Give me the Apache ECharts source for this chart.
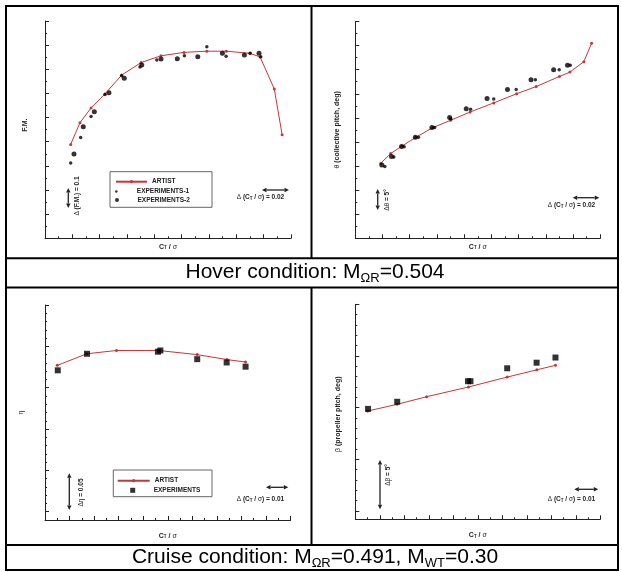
<!DOCTYPE html>
<html><head><meta charset="utf-8">
<script src="https://cdn.jsdelivr.net/npm/echarts@6/dist/echarts.min.js"></script>
<style>html,body{margin:0;padding:0;background:#fff}#c{width:622px;height:572px}</style>
</head><body><div id="c"></div>
<script>
// ---------------- data ----------------
// Hover: F.M. vs CT/sigma
const fmArtistCT = [0.0188,0.0256,0.0337,0.0439,0.0561,0.0703,0.0849,0.1017,0.1184,0.1327,0.1501,0.1574,0.1678,0.1735];
const fmArtist   = [0.389,0.479,0.540,0.598,0.676,0.728,0.756,0.770,0.775,0.775,0.766,0.751,0.618,0.429];
const fmExp1CT   = [0.0188,0.0261,0.0337,0.0439,0.0561,0.0695,0.0818,0.1020,0.1184,0.1325,0.1501,0.1579];
const fmExp1     = [0.312,0.418,0.504,0.596,0.673,0.709,0.738,0.756,0.793,0.754,0.766,0.752];
const fmExp2CT   = [0.0212,0.0280,0.0361,0.0468,0.0580,0.0708,0.0849,0.0968,0.1118,0.1298,0.1459,0.1566];
const fmExp2     = [0.349,0.462,0.524,0.603,0.663,0.718,0.743,0.744,0.752,0.766,0.759,0.766];
// Hover: collective pitch vs CT/sigma
const thArtistCT = [0.0188,0.0260,0.0343,0.0447,0.0571,0.0701,0.0843,0.1017,0.1185,0.1329,0.1500,0.1577,0.1679,0.1736];
const thArtist   = [15.6,17.6,19.15,21.0,23.0,24.5,26.2,28.1,30.0,31.5,33.6,34.5,36.65,40.5];
const thExp1CT   = [0.0217,0.0283,0.0359,0.0464,0.0583,0.0701,0.0847,0.1017,0.1182,0.1323,0.1498,0.1579];
const thExp1     = [14.9,16.9,19.0,21.0,23.0,24.8,26.8,28.9,30.9,32.9,35.0,35.9];
const thExp2CT   = [0.0195,0.0266,0.0340,0.0441,0.0563,0.0693,0.0815,0.0968,0.1118,0.1291,0.1457,0.1559];
const thExp2     = [15.2,17.0,19.05,21.0,23.0,25.05,26.9,29.0,30.9,32.9,35.0,35.9];
// Cruise
const crArtistCT   = [0.0050,0.0170,0.0291,0.0462,0.0620,0.0741,0.0817];
const crArtistEta  = [0.777,0.791,0.795,0.795,0.790,0.784,0.781];
const crArtistBeta = [29.67,30.32,31.06,32.0,32.96,33.66,34.1];
const crExpCT      = [0.0052,0.0171,0.0460,0.0470,0.0620,0.0740,0.0817];
const crExpEta     = [0.771,0.791,0.7935,0.795,0.7845,0.7805,0.7754];
const crExpBeta    = [29.88,30.57,32.56,32.56,33.81,34.35,34.85];
// tick values
const ctHoverTicks  = [0,0.02,0.04,0.06,0.08,0.10,0.12,0.14,0.16,0.18];
const ctHoverMinor  = [0.01,0.03,0.05,0.07,0.09,0.11,0.13,0.15,0.17];
const fmTicks       = [0,0.1,0.2,0.3,0.4,0.5,0.6,0.7,0.8,0.9];
const fmMinor       = [0.05,0.15,0.25,0.35,0.45,0.55,0.65,0.75,0.85];
const thTicks       = [0,5,10,15,20,25,30,35,40,45];
const thMinor       = [2.5,7.5,12.5,17.5,22.5,27.5,32.5,37.5,42.5];
const ctCruiseTicks = [0,0.01,0.02,0.03,0.04,0.05,0.06,0.07,0.08,0.09,0.10];
const ctCruiseMinor = [0.005,0.015,0.025,0.035,0.045,0.055,0.065,0.075,0.085,0.095];
const etaTicks      = [0.60,0.65,0.70,0.75,0.80,0.85];
const etaMinor      = [0.61,0.62,0.63,0.64,0.66,0.67,0.68,0.69,0.71,0.72,0.73,0.74,0.76,0.77,0.78,0.79,0.81,0.82,0.83,0.84];
const betaTicks     = [20,25,30,35,40];
const betaMinor     = [21,22,23,24,26,27,28,29,31,32,33,34,36,37,38,39];

// ---------------- styling ----------------
const FONT = "'Liberation Sans', Arial, sans-serif";
const RED = '#c0393b', INK = '#222';
const zip = (a, b) => a.map((v, i) => [v, b[i]]);

const grids = [
  {left:45,    top:21,    width:246, height:217.3},
  {left:355.3, top:21.5,  width:245, height:216.8},
  {left:45,    top:305,   width:245.5, height:215},
  {left:355.3, top:304.3, width:245, height:215}
].map(g => Object.assign({containLabel:false, outerBoundsMode:'none'}, g));

const ctName = '{b|C}{t|T}{b| / }{n|σ}';
const nameRich = {
  b:{fontSize:7, fontWeight:'bold', fontFamily:FONT, color:INK},
  t:{fontSize:4.5, fontWeight:'bold', fontFamily:FONT, color:INK, verticalAlign:'bottom', lineHeight:6},
  n:{fontSize:7, fontWeight:'normal', fontFamily:FONT, color:INK}
};

function axisPair(dim, gi, min, max, major, minor, name, gap, pad) {
  const base = {type:'value', gridIndex:gi, min, max, position: dim === 'x' ? 'bottom' : 'left',
    axisLabel:{show:false}, splitLine:{show:false}, splitArea:{show:false},
    minorTick:{show:false}, minorSplitLine:{show:false}};
  const main = Object.assign({}, base, {
    axisLine:{show:true, onZero:false, lineStyle:{color:INK, width:1}},
    axisTick:{show:true, inside:true, length:4, customValues:major, lineStyle:{color:INK, width:1}},
    name: name, nameLocation:'middle', nameGap: gap,
    nameTextStyle:{fontSize:7, fontFamily:FONT, color:INK, rich:nameRich, padding: pad || 0}
  });
  const mn = Object.assign({}, base, {
    axisLine:{show:false, onZero:false},
    axisTick:{show:true, inside:true, length:2, customValues:minor, lineStyle:{color:INK, width:1}}
  });
  return [main, mn];
}

const xAxis = [].concat(
  axisPair('x', 0, 0, 0.18, ctHoverTicks, ctHoverMinor, ctName, 5),
  axisPair('x', 1, 0, 0.18, ctHoverTicks, ctHoverMinor, ctName, 5),
  axisPair('x', 2, 0, 0.10, ctCruiseTicks, ctCruiseMinor, ctName, 12.5),
  axisPair('x', 3, 0, 0.10, ctCruiseTicks, ctCruiseMinor, ctName, 12.5)
);
const yAxis = [].concat(
  axisPair('y', 0, 0, 0.9, fmTicks, fmMinor, '{b|F.M.}', 16, [0, 0, 0, 9]),
  axisPair('y', 1, 0, 45, thTicks, thMinor, '{n|θ}{b| (collective pitch, deg)}', 15),
  axisPair('y', 2, 0.59, 0.85, etaTicks, etaMinor, '{n|η}', 20),
  axisPair('y', 3, 19.2, 40, betaTicks, betaMinor, '{n|β}{b| (propeller pitch, deg)}', 14, [0, 5, 0, 0])
);

function artist(gi, ct, v) {
  return {type:'line', name:'ARTIST', xAxisIndex:gi*2, yAxisIndex:gi*2, data:zip(ct, v),
    symbol:'circle', symbolSize:3, showSymbol:true, lineStyle:{color:RED, width:1},
    itemStyle:{color:RED}, z:2, silent:true};
}
function exp(gi, name, ct, v, symbol, size) {
  return {type:'scatter', name, xAxisIndex:gi*2, yAxisIndex:gi*2, data:zip(ct, v),
    symbol, symbolSize:size, itemStyle:{color:'#000'}, z:3, silent:true};
}
const series = [
  artist(0, fmArtistCT, fmArtist),
  exp(0, 'EXPERIMENTS-1', fmExp1CT, fmExp1, 'circle', 3.5),
  exp(0, 'EXPERIMENTS-2', fmExp2CT, fmExp2, 'circle', 5),
  artist(1, thArtistCT, thArtist),
  exp(1, 'EXPERIMENTS-1', thExp1CT, thExp1, 'circle', 3.5),
  exp(1, 'EXPERIMENTS-2', thExp2CT, thExp2, 'circle', 5),
  artist(2, crArtistCT, crArtistEta),
  exp(2, 'EXPERIMENTS', crExpCT, crExpEta, 'rect', 6),
  artist(3, crArtistCT, crArtistBeta),
  exp(3, 'EXPERIMENTS', crExpCT, crExpBeta, 'rect', 6)
];

function leg(item, left, centerY, iw, ih) {
  return {data:[item], left, top:centerY - 4, orient:'horizontal', padding:0,
    itemWidth:iw, itemHeight:ih, selectedMode:false, symbolKeepAspect:true,
    textStyle:{fontSize:6.5, fontWeight:'bold', fontFamily:FONT, color:INK, lineHeight:8}};
}
// square icon centred in a 64x10 box (bounds fixed by zero-length segments)
const squareIcon = 'path://M0,0L0,0M64,10L64,10M27,0L37,0L37,10L27,10Z';
const legend = [
  leg('ARTIST', 115, 181.7, 31, 4),
  leg('EXPERIMENTS-1', 115, 191.5, 31, 2.6),
  leg('EXPERIMENTS-2', 115, 200, 31, 4),
  leg('ARTIST', 116.7, 480.7, 32, 4),
  leg({name:'EXPERIMENTS', icon:squareIcon}, 116.7, 490.3, 32, 5)
];

// ---------------- annotations / table ----------------
function hArrow(x1, x2, y) {
  const h = 4.5, w = 2.2;
  return [
    {type:'line', shape:{x1:x1 + h, y1:y, x2:x2 - h, y2:y}, style:{stroke:INK, lineWidth:1.3}},
    {type:'polygon', shape:{points:[[x1, y], [x1 + h, y - w], [x1 + h, y + w]]}, style:{fill:INK}},
    {type:'polygon', shape:{points:[[x2, y], [x2 - h, y - w], [x2 - h, y + w]]}, style:{fill:INK}}
  ];
}
function vArrow(x, y1, y2) {
  const h = 4.5, w = 2.2;
  return [
    {type:'line', shape:{x1:x, y1:y1 + h, x2:x, y2:y2 - h}, style:{stroke:INK, lineWidth:1.3}},
    {type:'polygon', shape:{points:[[x, y1], [x - w, y1 + h], [x + w, y1 + h]]}, style:{fill:INK}},
    {type:'polygon', shape:{points:[[x, y2], [x - w, y2 - h], [x + w, y2 - h]]}, style:{fill:INK}}
  ];
}
const annRich = {
  n:{fontSize:6.5, fontWeight:'normal', fontFamily:FONT, fill:INK},
  t:{fontSize:4.5, fontWeight:'bold', fontFamily:FONT, fill:INK, verticalAlign:'bottom', lineHeight:6}
};
function ann(text, x, y, rot) {
  return {type:'text', x, y, rotation: rot ? Math.PI / 2 : 0, z:10,
    style:{text, rich:annRich, fontSize:6.5, fontWeight:'bold', fontFamily:FONT, fill:INK,
      align:'center', verticalAlign:'middle', lineHeight:8}};
}
const capRich = {s:{fontSize:13, fontFamily:FONT, fill:'#000', verticalAlign:'bottom', lineHeight:10}};
function caption(text, y) {
  return {type:'text', x:315, y, z:10,
    style:{text, rich:capRich, fontSize:21, fontFamily:FONT, fill:'#000', align:'center', verticalAlign:'middle', lineHeight:24}};
}
function hl(x1, x2, y) { return {type:'line', shape:{x1, y1:y, x2, y2:y}, style:{stroke:'#000', lineWidth:2}, z:10}; }
function vl(x, y1, y2) { return {type:'line', shape:{x1:x, y1, x2:x, y2}, style:{stroke:'#000', lineWidth:2}, z:10}; }

const elements = [].concat(
  [{type:'rect', shape:{x:6, y:6, width:612, height:564}, style:{fill:null, stroke:'#000', lineWidth:2}, z:10}],
  [hl(6, 618, 258.3), hl(6, 618, 287.5), hl(6, 618, 545), vl(311.5, 6, 258.3), vl(311.5, 287.5, 545)],
  [caption('Hover condition: M{s|ΩR}=0.504', 272.5),
   caption('Cruise condition: M{s|ΩR}=0.491, M{s|WT}=0.30', 557.5)],
  // legend boxes
  [{type:'rect', shape:{x:110, y:171.7, width:102, height:35.6}, style:{fill:null, stroke:'#666', lineWidth:1}, z:9},
   {type:'rect', shape:{x:113.3, y:470, width:98.7, height:26.7}, style:{fill:null, stroke:'#666', lineWidth:1}, z:9}],
  // panel 1
  vArrow(68.3, 188, 208), hArrow(262, 289, 190),
  [ann('{n|Δ} (F.M.) = 0.1', 77, 196, true), ann('{n|Δ} (C{t|T} / {n|σ}) = 0.02', 260.5, 197, false)],
  // panel 2
  vArrow(377.7, 189, 210), hArrow(572.7, 599.3, 197.7),
  [ann('{n|Δθ} = 5°', 387.7, 200, true), ann('{n|Δ} (C{t|T} / {n|σ}) = 0.02', 571.5, 205.7, false)],
  // panel 3
  vArrow(69.3, 473.3, 510), hArrow(266, 288.3, 487.3),
  [ann('{n|Δη} = 0.05', 81.7, 492.5, true), ann('{n|Δ} (C{t|T} / {n|σ}) = 0.01', 260.5, 499.3, false)],
  // panel 4
  vArrow(380, 460, 509.3), hArrow(574.3, 598.3, 489.3),
  [ann('{n|Δβ} = 5°', 388.3, 475, true), ann('{n|Δ} (C{t|T} / {n|σ}) = 0.01', 571.5, 499.3, false)]
);

const chart = echarts.init(document.getElementById('c'), null, {renderer:'canvas', width:622, height:572});
chart.setOption({
  animation:false,
  backgroundColor:'#fff',
  grid: grids,
  xAxis, yAxis, legend, series,
  tooltip:{show:false},
  graphic:{elements}
});
</script>
</body></html>
